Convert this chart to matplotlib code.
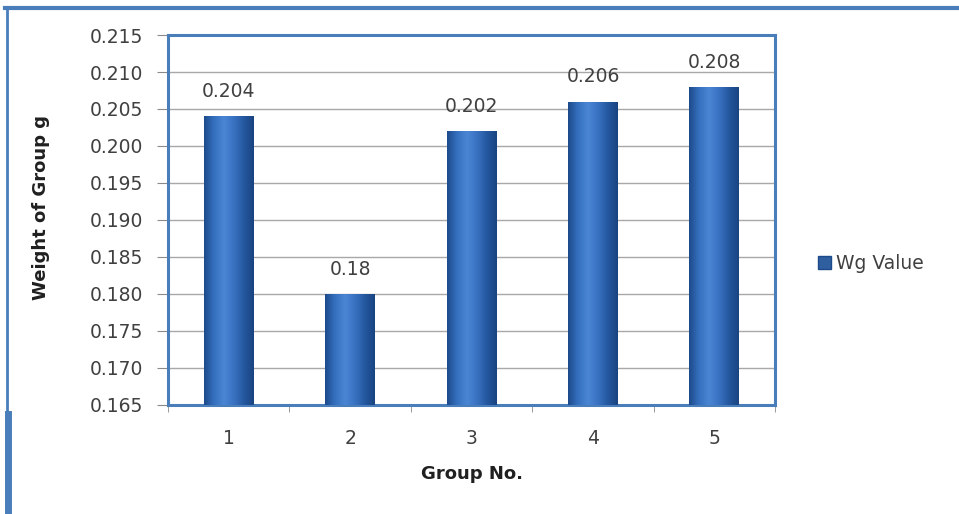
import numpy as np
import matplotlib
matplotlib.use("Agg")
import matplotlib.pyplot as plt
from matplotlib.lines import Line2D
from matplotlib.patches import Patch
from matplotlib.colors import LinearSegmentedColormap

groups = ["1", "2", "3", "4", "5"]
wg_values = [0.204, 0.18, 0.202, 0.206, 0.208]
value_labels = ["0.204", "0.18", "0.202", "0.206", "0.208"]
y_ticks = [0.165, 0.170, 0.175, 0.180, 0.185, 0.190, 0.195, 0.200, 0.205, 0.210, 0.215]

plt.rcParams["font.family"] = ["DejaVu Sans"]

fig = plt.figure(figsize=(9.59, 5.14), dpi=100)
ax = fig.add_axes([0.1752, 0.2121, 0.633, 0.7198])

x = np.arange(len(groups))
bars = ax.bar(x, wg_values, width=0.41, bottom=0, color="#3568b0", zorder=3)

# cylinder-like shading on each bar
shade = LinearSegmentedColormap.from_list(
    "shade", ["#1d4a8a", "#3570bf", "#4a86d4", "#3a72c2", "#24589f", "#1a4480"])
grad = np.linspace(0, 1, 256).reshape(1, -1)
for b in bars:
    x0, w = b.get_x(), b.get_width()
    im = ax.imshow(grad, cmap=shade, aspect="auto", zorder=3.5,
                   extent=[x0, x0 + w, 0.165, b.get_height()])
    im.set_clip_path(b)

for xi, v, lab in zip(x, wg_values, value_labels):
    ax.annotate(lab, (xi, v), xytext=(0, 11), textcoords="offset points",
                ha="center", va="bottom", fontsize=13.5, color="#404040")

ax.set_xlim(-0.5, 4.5)
ax.set_ylim(0.165, 0.215)
ax.set_yticks(y_ticks)
ax.set_yticklabels([f"{t:.3f}" for t in y_ticks])
ax.set_xticks(x)
ax.set_xticklabels(groups)
ax.set_xticks(np.arange(-0.5, 5, 1), minor=True)
ax.tick_params(axis="x", which="major", length=0, pad=17, labelsize=13.5, colors="#404040")
ax.tick_params(axis="x", which="minor", length=5, color="#8a8a8a", direction="out")
ax.tick_params(axis="y", length=8, color="#8a8a8a", pad=10, labelsize=13.5, labelcolor="#404040")

ax.grid(axis="y", color="#a8a8a8", linewidth=1, zorder=0)
ax.set_axisbelow(True)
for s in ax.spines.values():
    s.set_color("#4a7ebb")
    s.set_linewidth(2.2)

ax.set_ylabel("Weight of Group g", fontsize=13, fontweight="bold", color="#202020")
ax.yaxis.set_label_coords(-0.194, 0.535)
ax.set_xlabel("Group No.", fontsize=13, fontweight="bold", color="#202020")
ax.xaxis.set_label_coords(0.5, -0.162)

fig.legend(handles=[Patch(facecolor="#2f5f9f", edgecolor="#1d4a8a", label="Wg Value")],
           loc="center left", bbox_to_anchor=(0.835, 0.488), frameon=False,
           fontsize=13.5, handlelength=0.7, handleheight=0.7, handletextpad=0.3,
           labelcolor="#404040")

# outer frame lines
fig.add_artist(Line2D([0.005, 1.0], [0.984, 0.984], color="#4a7ebb", linewidth=3))
fig.add_artist(Line2D([0.0075, 0.0075], [0.985, 0.19], color="#4a7ebb", linewidth=2))
fig.add_artist(Line2D([0.0085, 0.0085], [0.195, 0.0], color="#4a7ebb", linewidth=5))

fig.savefig("out.png", dpi=100)
